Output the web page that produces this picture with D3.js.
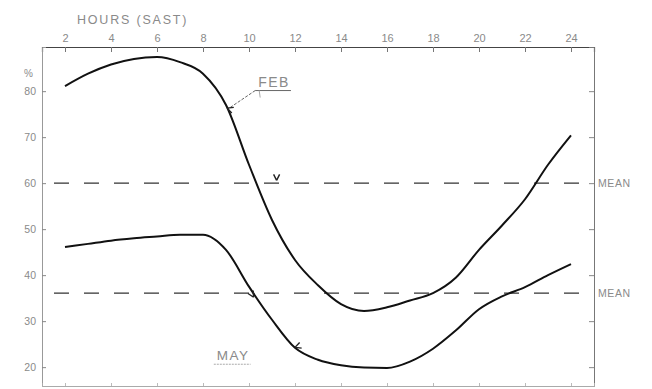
<!DOCTYPE html>
<html>
<head>
<meta charset="utf-8">
<script src="https://cdn.jsdelivr.net/npm/d3@7"></script>
<style>
  html, body { margin: 0; padding: 0; background: #fff; }
  svg { display: block; }
  text { font-family: "Liberation Sans", "DejaVu Sans", sans-serif; fill: #8a8a8a; }
</style>
</head>
<body>
<svg id="chart" width="652" height="389"></svg>
<script>
// ---- data ----
const hours = [2,3,4,5,6,7,8,9,10,11,12,13,14,15,16,17,18,19,20,21,22,23,24];
const febValues = [81.1,83.8,85.8,87.0,87.4,86.3,83.8,77.0,64.0,52.0,43.3,37.8,33.7,32.2,33.0,34.5,36.1,39.5,45.5,50.8,56.5,64.0,70.4];
const mayValues = [46.1,46.8,47.5,48.0,48.4,48.8,48.8,45.5,37.5,30.3,24.2,21.6,20.4,19.9,19.8,21.2,24.0,28.0,32.6,35.4,37.4,40.0,42.4];
const means = [{ name: "FEB", value: 60.0 }, { name: "MAY", value: 36.1 }];
const xTicks = [2,4,6,8,10,12,14,16,18,20,22,24];
const yTicks = [20,30,40,50,60,70,80];
const seriesLabels = [
  { text: "FEB", hour: 10.4, value: 81.0 },
  { text: "MAY", hour: 8.6, value: 21.5 }
];
// small arrow marks drawn on the original (hour, value, rotation)
const arrowMarks = [
  { hour: 9.05, value: 76.3, angle: 200 },
  { hour: 11.2, value: 60.6, angle: 90 },
  { hour: 10.2, value: 35.2, angle: 60 },
  { hour: 12.0, value: 24.3, angle: 160 }
];

// ---- layout ----
const svg = d3.select("#chart");
const mLeft = 42, mRight = 594, mTop = 47, mBottom = 386;
const x = d3.scaleLinear().domain([1, 25]).range([mLeft, mRight]);
const y = d3.scaleLinear().domain([15.9, 89.6]).range([mBottom, mTop]);

// axes
const topAxis = d3.axisTop(x).tickValues(xTicks).tickSize(-5).tickPadding(5).tickFormat(d3.format("d"));
const gTop = svg.append("g").attr("transform", `translate(0,${mTop})`).call(topAxis);
gTop.select(".domain").attr("stroke", "#444").attr("stroke-width", 1.2);
gTop.selectAll(".tick line").attr("stroke", "#777");
gTop.selectAll(".tick text").style("font-size", "11px").attr("fill", "#8a8a8a");

const leftAxis = d3.axisLeft(y).tickValues(yTicks).tickSize(-4).tickPadding(6).tickFormat(d3.format("d"));
const gLeft = svg.append("g").attr("transform", `translate(${mLeft},0)`).call(leftAxis);
gLeft.select(".domain").attr("stroke", "#999").attr("stroke-width", 1);
gLeft.selectAll(".tick line").attr("stroke", "#888");
gLeft.selectAll(".tick text").style("font-size", "10.5px").attr("fill", "#9a9a9a");

const rightAxis = d3.axisRight(y).tickValues(yTicks).tickSize(-5).tickFormat("");
const gRight = svg.append("g").attr("transform", `translate(${mRight},0)`).call(rightAxis);
gRight.select(".domain").attr("stroke", "#777").attr("stroke-width", 1);
gRight.selectAll(".tick line").attr("stroke", "#888");

const bottomAxis = d3.axisBottom(x).tickValues(xTicks).tickSize(-3).tickFormat("");
const gBottom = svg.append("g").attr("transform", `translate(0,${mBottom})`).call(bottomAxis);
gBottom.select(".domain").attr("stroke", "#aaa").attr("stroke-width", 1);
gBottom.selectAll(".tick line").attr("stroke", "#bbb");

// axis titles
svg.append("text").attr("x", 77).attr("y", 24)
  .style("font-size", "12.5px").style("letter-spacing", "1.8px").text("HOURS (SAST)");
svg.append("text").attr("x", 24).attr("y", 77)
  .style("font-size", "10px").text("%");

// mean lines
svg.append("g").selectAll("line").data(means).join("line")
  .attr("x1", mLeft).attr("x2", mRight)
  .attr("y1", d => y(d.value)).attr("y2", d => y(d.value))
  .attr("stroke", "#333").attr("stroke-width", 1.4)
  .attr("stroke-dasharray", "15,15").attr("stroke-dashoffset", -12);
svg.append("g").selectAll("text").data(means).join("text")
  .attr("x", mRight + 4).attr("y", d => y(d.value) + 4)
  .style("font-size", "10.5px").style("letter-spacing", "0.6px")
  .text("MEAN");

// curves
const line = d3.line().x(d => x(d[0])).y(d => y(d[1])).curve(d3.curveMonotoneX);
[febValues, mayValues].forEach(vals => {
  svg.append("path")
    .datum(hours.map((h, i) => [h, vals[i]]))
    .attr("d", line)
    .attr("fill", "none")
    .attr("stroke", "#111")
    .attr("stroke-width", 2);
});

// series labels (underlined)
seriesLabels.forEach(s => {
  const t = svg.append("text").attr("x", x(s.hour)).attr("y", y(s.value))
    .style("font-size", s.text === "FEB" ? "14px" : "13.5px")
    .style("letter-spacing", "1.5px")
    .attr("fill", "#777")
    .text(s.text);
  const bb = t.node().getBBox();
  svg.append("line")
    .attr("x1", bb.x - 3).attr("x2", bb.x + bb.width + 1)
    .attr("y1", bb.y + bb.height + 1).attr("y2", bb.y + bb.height + 1)
    .attr("stroke", s.text === "FEB" ? "#666" : "#aaa")
    .attr("stroke-width", 1)
    .attr("stroke-dasharray", s.text === "FEB" ? null : "2,1");
  if (s.text === "FEB") {
    const p = arrowMarks[0];
    svg.append("line")
      .attr("x1", bb.x - 3).attr("y1", bb.y + bb.height + 1)
      .attr("x2", x(p.hour) + 2).attr("y2", y(p.value))
      .attr("stroke", "#666").attr("stroke-width", 1).attr("stroke-dasharray", "3,1.5");
    svg.append("line")
      .attr("x1", bb.x + 1).attr("x2", bb.x + 2)
      .attr("y1", bb.y + bb.height + 1).attr("y2", bb.y + bb.height + 8)
      .attr("stroke", "#aaa").attr("stroke-width", 1);
  }
});

// small arrow marks
svg.append("g").selectAll("path").data(arrowMarks).join("path")
  .attr("transform", d => `translate(${x(d.hour)},${y(d.value)}) rotate(${d.angle})`)
  .attr("d", "M0,0 L-6,-3 M0,0 L-6,3")
  .attr("fill", "none").attr("stroke", "#222").attr("stroke-width", 1.4);
</script>
</body>
</html>
